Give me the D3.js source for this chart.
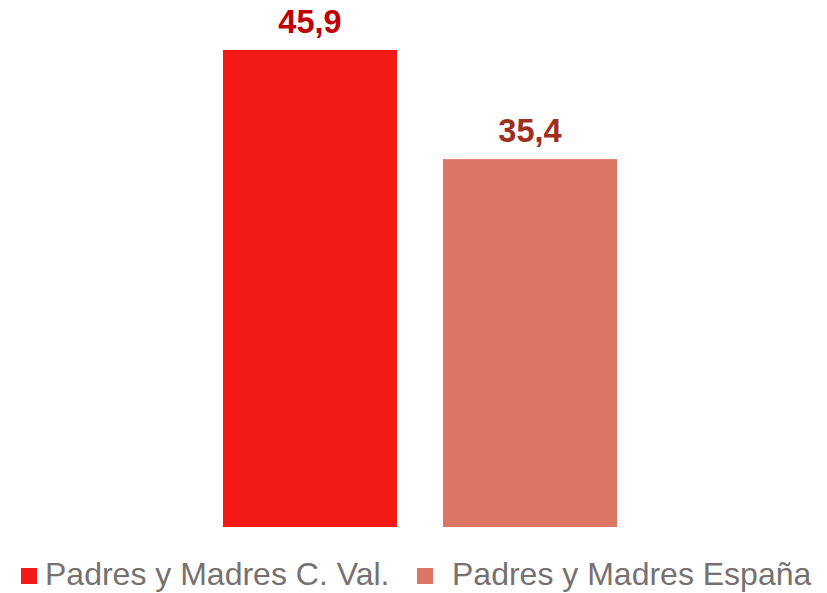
<!DOCTYPE html>
<html>
<head>
<meta charset="utf-8">
<script src="https://cdn.jsdelivr.net/npm/d3@7"></script>
<style>
  html, body { margin: 0; padding: 0; background: #fff; }
  svg { display: block; font-family: "Liberation Sans", Arial, sans-serif; }
</style>
</head>
<body>
<div id="chart"></div>
<script>
// values
const categories = ['Padres y Madres C. Val.', 'Padres y Madres España']
const values = [45.9, 35.4]
const barColors = ['#F31914', '#DB7564']
const labelColors = ['#C00000', '#9E3022']

const width = 827
const height = 593

const svg = d3.select('#chart')
  .append('svg')
  .attr('width', width)
  .attr('height', height)

// bars sit between x 223..616, baseline at y 527
const x = d3.scaleBand()
  .domain(categories)
  .range([200, 640])
  .paddingInner(0.209)
  .paddingOuter(0.1045)

const y = d3.scaleLinear()
  .domain([0, 50])
  .range([527, 7.4])

svg.append('g')
  .selectAll('rect')
  .data(categories)
  .join('rect')
  .attr('x', (d) => x(d))
  .attr('width', x.bandwidth())
  .attr('y', (d, i) => y(values[i]))
  .attr('height', (d, i) => y(0) - y(values[i]))
  .attr('fill', (d, i) => barColors[i])

svg.append('g')
  .selectAll('text')
  .data(categories)
  .join('text')
  .attr('x', (d) => x(d) + x.bandwidth() / 2)
  .attr('y', (d, i) => y(values[i]) - 17)
  .attr('text-anchor', 'middle')
  .attr('font-size', '32.5px')
  .attr('font-weight', 'bold')
  .attr('fill', (d, i) => labelColors[i])
  .text((d, i) => d3.format('.1f')(values[i]).replace('.', ','))

// legend
const legendX = [21, 417]
const legend = svg.append('g')
  .selectAll('g')
  .data(categories)
  .join('g')
  .attr('transform', (d, i) => `translate(${legendX[i]},0)`)

legend.append('rect')
  .attr('x', 0)
  .attr('y', 568)
  .attr('width', 16)
  .attr('height', 16)
  .attr('fill', (d, i) => barColors[i])

legend.append('text')
  .attr('x', (d, i) => (i === 0 ? 24 : 35))
  .attr('y', 585)
  .attr('font-size', '32px')
  .attr('fill', '#767171')
  .text((d) => d)
</script>
</body>
</html>
